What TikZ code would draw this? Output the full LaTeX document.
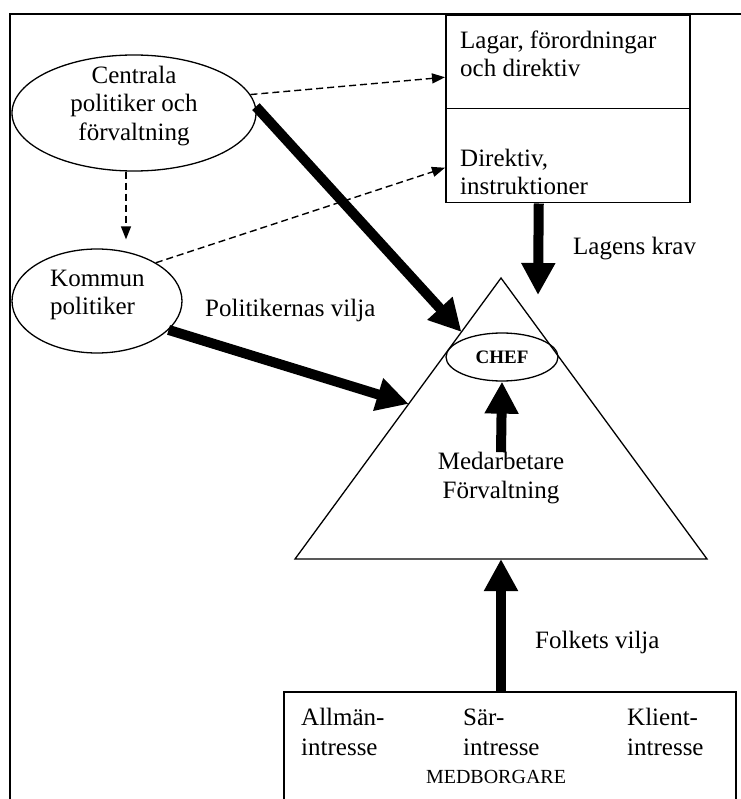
\documentclass[tikz,border=0pt]{standalone}
\usepackage{fontspec}
\setmainfont{Liberation Serif}
\usetikzlibrary{arrows.meta,shapes.geometric,calc}
\begin{document}
\begin{tikzpicture}[x=1pt, y=-1pt,
  txt/.style={inner sep=0pt, font=\fontsize{25}{28.5}\selectfont},
  oval/.style={draw, ellipse, line width=1.3pt, inner sep=0pt},
  box/.style={draw, line width=1.5pt, inner sep=0pt, anchor=north west},
  dasharrow/.style={dash pattern=on 7pt off 4pt, line width=1.4pt, -{Triangle[length=13pt,width=10pt]}},
  bigarrow/.style={line width=10pt, -{Triangle[length=32pt,width=32pt]}}]
\useasboundingbox (0,0) rectangle (740,799);
% ram
\draw[line width=1.5pt] (10,830) -- (10,14) -- (770,14);
% triangel
\coordinate (apex) at (501,278);
\coordinate (baseR) at (707,559);
\coordinate (baseL) at (295,559);
\coordinate (baseM) at (501,559);
\coordinate (hitA) at ($(apex)!0.192!(baseL)$);
\coordinate (hitB) at ($(apex)!0.448!(baseL)$);
\coordinate (lagTip) at (538,295);
\draw[line width=1.3pt] (apex) -- (baseR) -- (baseL) -- cycle;
% politiker
\node[oval, minimum width=244pt, minimum height=116pt] (central) at (134,113) {};
\node[txt, align=center] (centralTxt) at (134,106) {Centrala\\politiker och\\förvaltning};
\node[oval, minimum width=170pt, minimum height=104pt] (kommun) at (97,301) {};
\node[txt, align=left, anchor=west] (kommunTxt) at (50,295) {Kommun\\politiker};
% lagar
\node[box, minimum width=244pt, minimum height=93pt] (lagar) at (445,15) {};
\node[box, minimum width=244pt, minimum height=94pt] (direktiv) at (445,108) {};
\node[txt, align=left, anchor=west] (lagarTxt) at (460,54) {Lagar, förordningar\\och direktiv};
\node[txt, align=left, anchor=west] (direktivTxt) at (460,172) {Direktiv,\\instruktioner};
% chef och medarbetare
\node[oval, minimum width=112pt, minimum height=48pt] (chef) at (502,357) {\fontsize{19}{22}\selectfont\bfseries CHEF};
\node[txt, align=center] (medarb) at (501,478) {Medarbetare\\Förvaltning};
% medborgare
\node[box, minimum width=452pt, minimum height=130pt] (medb) at (283,691) {};
\node[txt, align=left, anchor=west, font=\fontsize{25}{30}\selectfont] (allman) at (301,732) {Allmän-\\intresse};
\node[txt, align=left, anchor=west, font=\fontsize{25}{30}\selectfont] (sar) at (463,732) {Sär-\\intresse};
\node[txt, align=left, anchor=west, font=\fontsize{25}{30}\selectfont] (klient) at (627,732) {Klient-\\intresse};
\node[txt, font=\fontsize{20}{24}\selectfont] (medbTxt) at (496,777) {MEDBORGARE};
% etiketter
\node[txt, anchor=west] (lagensKrav) at (573,249) {Lagens krav};
\node[txt, anchor=west] (polVilja) at (205,310) {Politikernas vilja};
\node[txt, anchor=west] (folkVilja) at (535,642) {Folkets vilja};
% pilar
\draw[dasharrow] (central.9) -- ([yshift=-15pt]lagar.west);
\draw[dasharrow] (kommun.33) -- ([yshift=-12pt]direktiv.west);
\draw[dasharrow, shorten >=9pt] ([xshift=-8pt]central.south) -- ([xshift=-8pt]central.south |- kommun.north);
\draw[bigarrow] (central.3) -- (hitA);
\draw[bigarrow] (kommun.-22) -- (hitB);
\draw[bigarrow] ([xshift=-29pt]direktiv.south) -- (lagTip);
\draw[bigarrow] (medarb.north) -- (chef.south);
\draw[bigarrow] (medb.north -| baseM) -- (baseM);
\end{tikzpicture}
\end{document}
